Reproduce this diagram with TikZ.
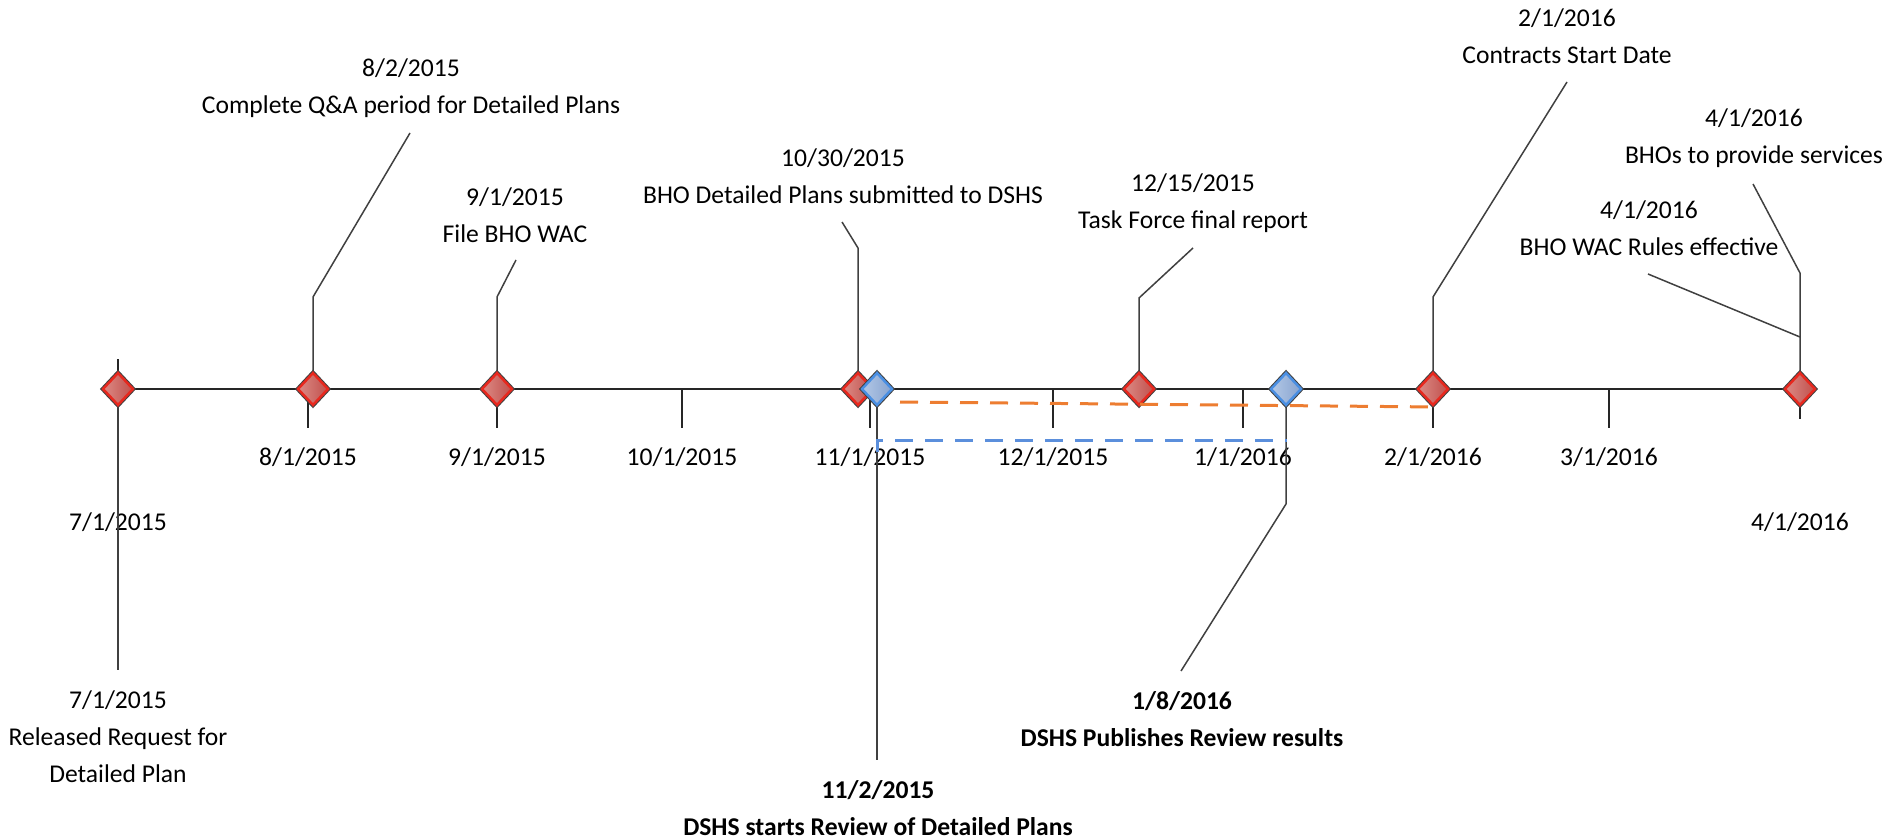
\documentclass[tikz,border=0pt]{standalone}
\usepackage{fontspec}
\setmainfont{Carlito}
\usepackage{tikz}
\usetikzlibrary{shapes,calc,positioning}
\definecolor{mred}{HTML}{E8281E}
\definecolor{mredl}{HTML}{DC8A85}
\definecolor{mredd}{HTML}{C0504C}
\definecolor{mblue}{HTML}{4A8FE3}
\definecolor{mbluel}{HTML}{B3C8E6}
\definecolor{mblued}{HTML}{87A3CF}
\definecolor{morange}{HTML}{ED7D31}
\definecolor{mdash}{HTML}{5B8FDC}
\definecolor{mgray}{HTML}{404040}
\tikzstyle{dia}=[diamond, minimum width=31pt, minimum height=33pt, inner sep=0pt, preaction={draw=mgray, line width=4.5pt}, line width=2.5pt]
\tikzstyle{rdia}=[dia, draw=mred, left color=mredl, right color=mredd]
\tikzstyle{bdia}=[dia, draw=mblue, left color=mbluel, right color=mblued]
\tikzstyle{l1}=[line width=2pt, black!85]
\tikzstyle{lead}=[line width=1.5pt, mgray]
\tikzstyle{dsh}=[line width=3pt, dash pattern=on 18pt off 12pt]
\tikzstyle{txt}=[align=center, inner sep=0pt, font=\fontsize{25.6}{37}\selectfont]
\tikzstyle{btxt}=[txt, font=\fontsize{25.6}{37}\selectfont\bfseries]

\begin{document}
\begin{tikzpicture}[x=1pt, y=-1pt]
    \useasboundingbox (0,0) rectangle (1891,840);

    % event points on the axis
    \coordinate (p1) at (118,389); \coordinate (p2) at (313,389); \coordinate (p3) at (497,389);
    \coordinate (p4) at (858,389); \coordinate (p5) at (877,389); \coordinate (p6) at (1139,389);
    \coordinate (p7) at (1286,389); \coordinate (p8) at (1433,389); \coordinate (p9) at (1800,389);

    % axis and month ticks
    \draw[l1] (p1) -- (p9);
    \coordinate (m0t) at (118,359);
    \coordinate (m1t) at (308,389); \coordinate (m1b) at (308,428);
    \coordinate (m2b) at (497,428);
    \coordinate (m3t) at (682,389); \coordinate (m3b) at (682,428);
    \coordinate (m4t) at (870,389); \coordinate (m4b) at (870,428);
    \coordinate (m5t) at (1053,389); \coordinate (m5b) at (1053,428);
    \coordinate (m6t) at (1243,389); \coordinate (m6b) at (1243,428);
    \coordinate (m7b) at (1433,428);
    \coordinate (m8t) at (1609,389); \coordinate (m8b) at (1609,428);
    \coordinate (m9b) at (1800,419);
    \draw[l1] (m0t) -- (p1);
    \draw[l1] (m1t) -- (m1b); \draw[l1] (p3) -- (m2b); \draw[l1] (m3t) -- (m3b);
    \draw[l1] (m4t) -- (m4b); \draw[l1] (m5t) -- (m5b); \draw[l1] (m6t) -- (m6b);
    \draw[l1] (p8) -- (m7b); \draw[l1] (m8t) -- (m8b); \draw[l1] (p9) -- (m9b);

    \node[txt] at (118,522) (m0) {7/1/2015};
    \node[txt] at (308,457) (m1) {8/1/2015};
    \node[txt] at (497,457) (m2) {9/1/2015};
    \node[txt] at (682,457) (m3) {10/1/2015};
    \node[txt] at (870,457) (m4) {11/1/2015};
    \node[txt] at (1053,457) (m5) {12/1/2015};
    \node[txt] at (1243,457) (m6) {1/1/2016};
    \node[txt] at (1433,457) (m7) {2/1/2016};
    \node[txt] at (1609,457) (m8) {3/1/2016};
    \node[txt] at (1800,522) (m9) {4/1/2016};

    % event labels
    \node[txt] at (118,737) (l1) {7/1/2015\\Released Request for\\Detailed Plan};
    \node[txt] at (411,88.5) (l2) {8/2/2015\\Complete Q\&A period for Detailed Plans};
    \node[txt] at (515,215) (l3) {9/1/2015\\File BHO WAC};
    \node[txt] at (843,176.5) (l4) {10/30/2015\\BHO Detailed Plans submitted to DSHS};
    \node[btxt] at (878,808.5) (l5) {11/2/2015\\DSHS starts Review of Detailed Plans};
    \node[txt] at (1193,203) (l6) {12/15/2015\\Task Force final report};
    \node[btxt] at (1182,719.5) (l7) {1/8/2016\\DSHS Publishes Review results};
    \node[txt] at (1567,36) (l8) {2/1/2016\\Contracts Start Date};
    \node[txt] at (1649,228.5) (l9) {4/1/2016\\BHO WAC Rules effective};
    \node[txt] at (1754,138.5) (l10) {4/1/2016\\BHOs to provide services};

    % leaders
    \coordinate (e1) at (118,670);
    \coordinate (k2) at (313,297); \coordinate (e2) at (410,133);
    \coordinate (k3) at (497,297); \coordinate (e3) at (516,260);
    \coordinate (k4) at (858,248); \coordinate (e4) at (842,222);
    \coordinate (e5) at (877,760);
    \coordinate (k6) at (1139,298); \coordinate (e6) at (1193,248);
    \coordinate (k7) at (1286,504); \coordinate (e7) at (1181,671);
    \coordinate (k8) at (1433,297); \coordinate (e8) at (1567,82);
    \coordinate (k9) at (1800,337); \coordinate (e9) at (1648,274);
    \coordinate (k10) at (1800,273); \coordinate (e10) at (1753,184);
    \draw[lead] (p1) -- (e1);
    \draw[lead] (p2) -- (k2) -- (e2);
    \draw[lead] (p3) -- (k3) -- (e3);
    \draw[lead] (p4) -- (k4) -- (e4);
    \draw[lead] (p5) -- (e5);
    \draw[lead] (p6) -- (k6) -- (e6);
    \draw[lead] (p7) -- (k7) -- (e7);
    \draw[lead] (p8) -- (k8) -- (e8);
    \draw[lead] (k9) -- (e9);
    \draw[lead] (p9) -- (k10) -- (e10);

    % diamonds
    \node[rdia] at (p1) (d1) {}; \node[rdia] at (p2) (d2) {}; \node[rdia] at (p3) (d3) {};
    \node[rdia] at (p4) (d4) {}; \node[bdia] at (p5) (d5) {}; \node[rdia] at (p6) (d6) {};
    \node[bdia] at (p7) (d7) {}; \node[rdia] at (p8) (d8) {}; \node[rdia] at (p9) (d9) {};

    % review periods
    \coordinate (o1) at (900,402); \coordinate (o2) at (1438,407);
    \coordinate (b0) at (877,452); \coordinate (b1) at (877,440); \coordinate (b2) at (1287,440);
    \draw[dsh, morange] (o1) -- (o2);
    \draw[dsh, mdash] (b0) -- (b1) -- (b2);
\end{tikzpicture}
\end{document}
